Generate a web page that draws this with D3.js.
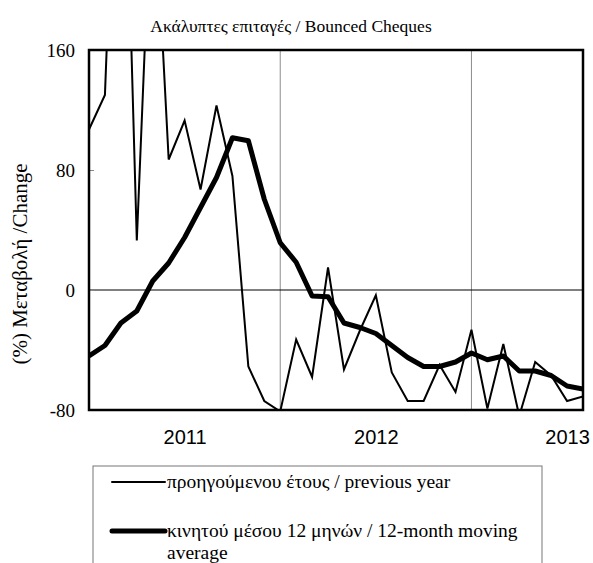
<!DOCTYPE html>
<html><head><meta charset="utf-8">
<script src="https://cdn.jsdelivr.net/npm/d3@7"></script>
<style>body{margin:0;background:#fff}svg{display:block}</style>
</head><body>
<svg id="c" width="593" height="563"></svg>
<script>
const months = d3.range(32).map(i => { const d = new Date(2011, i, 1); return d3.timeFormat("%b %Y")(d); });
const previousYear = [107, 130, 410, 33, 290, 87, 113, 67, 123, 76, -51, -74, -81, -33, -58, 15,
  -53, -27, -3.5, -55, -74, -74, -50, -68, -26.5, -79, -36, -84, -48, -57, -74, -71];
const movingAvg = [-44, -37, -22, -14, 6, 18, 35, 55, 75, 101.5, 99.5, 60.5, 31.5, 18.5, -4, -4.5,
  -22, -25, -29, -37, -45, -51, -51, -48, -42, -46.5, -44, -54, -54, -57, -64, -66];
const yTicks = [160, 80, 0, -80];
const yearLabels = [{label: "2011", idx: 6}, {label: "2012", idx: 18}, {label: "2013", idx: 30}];
const gridIdx = [12, 24];
const title = "Ακάλυπτες επιταγές / Bounced Cheques";
const yTitle = "(%) Μεταβολή /Change";
const legendItems = [
  {lines: ["προηγούμενου έτους / previous year"], w: 2},
  {lines: ["κινητού μέσου 12 μηνών / 12-month moving", "average"], w: 5}
];

const SERIF = '"Liberation Serif", "Times New Roman", serif';
const SANS = '"Liberation Sans", Arial, sans-serif';
const svg = d3.select("#c");
const L = 89, R = 583, T = 50, B = 410;
const x = d3.scaleLinear().domain([0, months.length - 1]).range([L, R]);
const y = d3.scaleLinear().domain([-80, 160]).range([B, T]);

svg.append("text").style("font-family", SERIF).attr("x", 291).attr("y", 32).attr("text-anchor", "middle")
  .attr("font-size", 17.5).text(title);

// gridlines
svg.selectAll(".g").data(gridIdx).enter().append("line")
  .attr("x1", d => x(d)).attr("x2", d => x(d)).attr("y1", T).attr("y2", B)
  .attr("stroke", "#8c8c8c").attr("stroke-width", 1);
// zero line
svg.append("line").attr("x1", L).attr("x2", R).attr("y1", y(0)).attr("y2", y(0))
  .attr("stroke", "#000").attr("stroke-width", 1.2);

// y axis
const yAxis = d3.axisLeft(y).tickValues(yTicks).tickSize(-5).tickPadding(14).tickFormat(d => String(d));
const ya = svg.append("g").attr("transform", `translate(${L},0)`).call(yAxis);
ya.select(".domain").remove();
ya.selectAll(".tick line").attr("stroke", "#888");
ya.selectAll("text").style("font-family", SERIF).attr("font-size", 19).attr("fill", "#000");

// x axis labels
const xa = svg.append("g").attr("transform", `translate(0,${B})`)
  .call(d3.axisBottom(x).tickValues(yearLabels.map(d => d.idx))
    .tickFormat(i => yearLabels.find(d => d.idx === i).label).tickSize(0).tickPadding(20));
xa.select(".domain").remove();
xa.selectAll("text").style("font-family", SANS).attr("font-size", 20).attr("fill", "#000");

// y title
svg.append("text").style("font-family", SERIF).attr("transform", "translate(27,264) rotate(-90)").attr("text-anchor", "middle")
  .attr("font-size", 21).text(yTitle);

// clip
svg.append("clipPath").attr("id", "clip").append("rect")
  .attr("x", L).attr("y", T).attr("width", R - L).attr("height", B - T);
const line = d3.line().x((d, i) => x(i)).y(d => y(d));
const plot = svg.append("g").attr("clip-path", "url(#clip)");
plot.append("path").datum(previousYear).attr("d", line).attr("fill", "none")
  .attr("stroke", "#000").attr("stroke-width", 2).attr("stroke-linejoin", "miter");
plot.append("path").datum(movingAvg).attr("d", line).attr("fill", "none")
  .attr("stroke", "#000").attr("stroke-width", 5).attr("stroke-linejoin", "round");

// border
svg.append("rect").attr("x", L).attr("y", T).attr("width", R - L).attr("height", B - T)
  .attr("fill", "none").attr("stroke", "#000").attr("stroke-width", 2.5);

// legend
const lg = svg.append("g");
lg.append("rect").attr("x", 93).attr("y", 466).attr("width", 449).attr("height", 120)
  .attr("fill", "none").attr("stroke", "#777").attr("stroke-width", 1);
const ly = [482, 531];
legendItems.forEach((it, i) => {
  lg.append("line").attr("x1", 112).attr("x2", 165).attr("y1", ly[i]).attr("y2", ly[i])
    .attr("stroke", "#000").attr("stroke-width", it.w).attr("stroke-linecap", "round");
  const t = lg.append("text").style("font-family", SERIF).attr("font-size", 19.5).attr("x", 167).attr("y", ly[i] + 6);
  it.lines.forEach((s, j) => t.append("tspan").attr("x", 167).attr("dy", j ? 22 : 0).text(s));
});
</script>
</body></html>
